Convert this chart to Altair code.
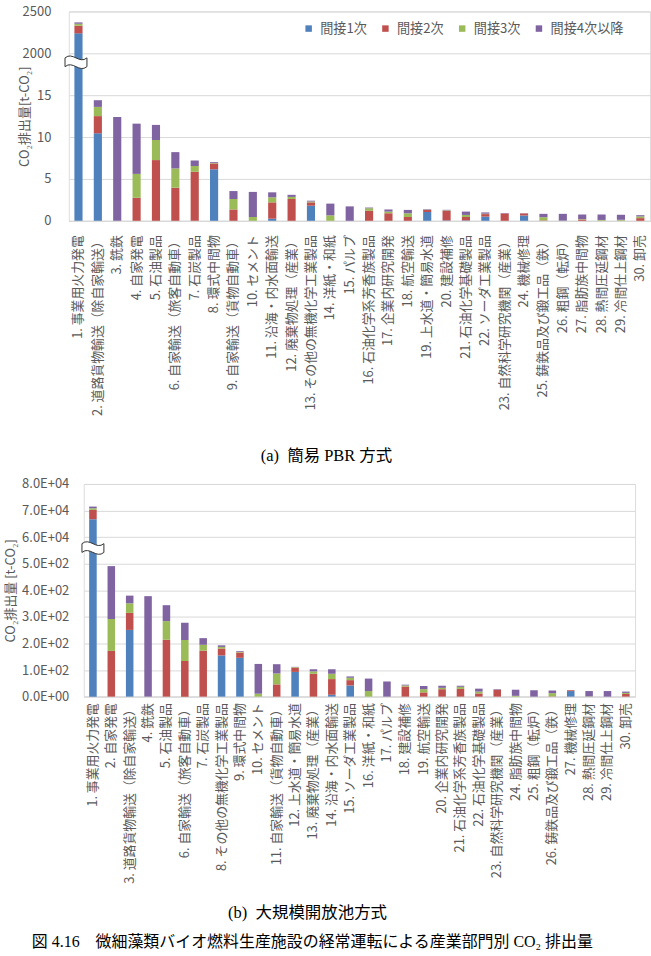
import altair as alt
import pandas as pd

series = ["間接1次", "間接2次", "間接3次", "間接4次以降"]
colors = ["#4F81BD", "#C0504D", "#9BBB59", "#8064A2"]

# ---------- (a) 簡易 PBR 方式 ----------
cats_a = [
    "1. 事業用火力発電", "2. 道路貨物輸送（除自家輸送）", "3. 銑鉄", "4. 自家発電", "5. 石油製品",
    "6. 自家輸送（旅客自動車）", "7. 石炭製品", "8. 環式中間物", "9. 自家輸送（貨物自動車）", "10. セメント",
    "11. 沿海・内水面輸送", "12. 廃棄物処理（産業）", "13. その他の無機化学工業製品", "14. 洋紙・和紙", "15. パルプ",
    "16. 石油化学系芳香族製品", "17. 企業内研究開発", "18. 航空輸送", "19. 上水道・簡易水道", "20. 建設補修",
    "21. 石油化学基礎製品", "22. ソーダ工業製品", "23. 自然科学研究機関（産業）", "24. 機械修理", "25. 鋳鉄品及び鍛工品（鉄）",
    "26. 粗鋼（転炉）", "27. 脂肪族中間物", "28. 熱間圧延鋼材", "29. 冷間仕上鋼材", "30. 卸売",
]
a_1 = [2238, 10.45, 0, 0, 0, 0, 0, 6.15, 0, 0, 0.25, 0, 1.8, 0, 0,
       0, 0, 0, 1.05, 0.05, 0.05, 0.5, 0, 0.63, 0, 0, 0, 0, 0, 0]
a_2 = [92, 2.05, 0, 2.75, 7.25, 3.95, 5.85, 0.7, 1.35, 0, 1.95, 2.6, 0.4, 0, 0,
       1.2, 0.9, 0.45, 0.25, 1.15, 0.4, 0.3, 0.88, 0.25, 0.05, 0, 0.15, 0.02, 0.02, 0.32]
a_3 = [23, 1.1, 0, 2.85, 2.4, 2.3, 0.7, 0.05, 1.25, 0.45, 0.6, 0.25, 0.1, 0.65, 0,
       0.3, 0.2, 0.45, 0.02, 0.05, 0.25, 0.05, 0, 0, 0.38, 0.02, 0.05, 0.08, 0.1, 0.2]
a_4 = [16, 0.8, 12.4, 6.0, 1.8, 1.95, 0.65, 0.1, 0.95, 3.0, 0.6, 0.25, 0.1, 1.4, 1.72,
       0.08, 0.25, 0.4, 0.06, 0.06, 0.4, 0.15, 0.04, 0.02, 0.4, 0.81, 0.55, 0.65, 0.6, 0.15]
a_domain = [0, 15, 2000, 2500]
a_ticks = [0, 5, 10, 15, 2000, 2500]
a_break = [1575]

# ---------- (b) 大規模開放池方式 ----------
cats_b = [
    "1. 事業用火力発電", "2. 自家発電", "3. 道路貨物輸送（除自家輸送）", "4. 銑鉄", "5. 石油製品",
    "6. 自家輸送（旅客自動車）", "7. 石炭製品", "8. その他の無機化学工業製品", "9. 環式中間物", "10. セメント",
    "11. 自家輸送（貨物自動車）", "12. 上水道・簡易水道", "13. 廃棄物処理（産業）", "14. 沿海・内水面輸送", "15. ソーダ工業製品",
    "16. 洋紙・和紙", "17. パルプ", "18. 建設補修", "19. 航空輸送", "20. 企業内研究開発",
    "21. 石油化学系芳香族製品", "22. 石油化学基礎製品", "23. 自然科学研究機関（産業）", "24. 脂肪族中間物", "25. 粗鋼（転炉）",
    "26. 鋳鉄品及び鍛工品（鉄）", "27. 機械修理", "28. 熱間圧延鋼材", "29. 冷間仕上鋼材", "30. 卸売",
]
b_1 = [66750, 0, 251, 0, 0, 0, 0, 155, 146, 0, 0, 93, 0, 7, 42,
       0, 0, 0, 0, 0, 0, 0, 0, 0, 0, 0, 21, 0, 0, 0]
b_2 = [3500, 172, 64, 0, 214, 134, 173, 26, 20, 0, 46, 16, 86, 59, 20,
       0, 0, 38, 16, 28, 29, 12, 26, 0, 0, 1, 3, 0, 0, 10]
b_3 = [600, 120, 36, 0, 70, 79, 22, 6, 2, 11, 41, 2, 9, 20, 9,
       21, 0, 4, 12, 5, 8, 7, 0, 3, 0, 12, 0, 1, 0, 4]
b_4 = [650, 199, 29, 378, 60, 65, 25, 6, 3, 112, 35, 1, 8, 17, 5,
       47, 57, 3, 12, 8, 4, 11, 2, 23, 24, 10, 0, 20, 21, 5]
b_domain = [0, 500, 60000, 80000]
b_ticks = [0, 100, 200, 300, 400, 500, 60000, 70000, 80000]
b_break = [35600]

captions = ["(a)\u00a0\u00a0簡易 PBR 方式", "(b)\u00a0\u00a0大規模開放池方式"]
fig_caption = "図 4.16　微細藻類バイオ燃料生産施設の経常運転による産業部門別 CO₂ 排出量"

BREAK_PATH = ("M -1 -0.4 C -0.3 -1.0 0.3 0.2 1 -0.4 L 1 0.4 "
              "C 0.3 1.0 -0.3 -0.2 -1 0.4 Z")

JP = "Noto Sans CJK JP"
SERIF = "Liberation Serif, Noto Sans CJK JP"
GRAY = "#595959"
GRID = "#D9D9D9"


def long_df(cats, s1, s2, s3, s4):
    rows = []
    for i, c in enumerate(cats):
        for j, arr in enumerate([s1, s2, s3, s4]):
            rows.append({"cat": c, "value": arr[i], "series": series[j], "order": j})
    return pd.DataFrame(rows)


def panel(cats, s1, s2, s3, s4, domain, yrange, ticks, label_expr, ytitle,
          brk, width, height, pad_inner, x_label_pad, y_label_pad, y_title_pad,
          legend_x, legend_y, caption, cap_offset, cap_dx, brk_dx):
    df = long_df(cats, s1, s2, s3, s4)
    xenc = alt.X(
        "cat:N", sort=cats, title=None,
        scale=alt.Scale(paddingInner=pad_inner, paddingOuter=pad_inner / 2),
        axis=alt.Axis(labelAngle=270, labelFont=JP, labelFontSize=12.9, labelColor=GRAY,
                      labelLimit=400, labelOverlap=False, labelPadding=x_label_pad,
                      ticks=False, tickSize=0, domainColor=GRID, domainWidth=1, grid=False),
    )
    yscale = alt.Scale(domain=domain, range=yrange, nice=False, zero=False)
    bars = alt.Chart(df).mark_bar().encode(
        x=xenc,
        y=alt.Y("value:Q", stack="zero", scale=yscale,
                axis=alt.Axis(values=ticks, tickCount=len(ticks) + 2,
                              labelExpr=label_expr, title=ytitle,
                              labelFont=JP, labelFontSize=13, labelColor=GRAY,
                              labelOverlap=False, labelFlush=False,
                              labelPadding=y_label_pad, ticks=False, tickSize=0,
                              domain=False, grid=True, gridColor=GRID, gridWidth=1,
                              titleFont=JP, titleFontSize=13, titleFontWeight="normal",
                              titleColor=GRAY, titlePadding=y_title_pad)),
        color=alt.Color("series:N", scale=alt.Scale(domain=series, range=colors),
                        legend=alt.Legend(title=None, orient="none", legendX=legend_x,
                                          legendY=legend_y, direction="horizontal",
                                          columns=4, columnPadding=11, symbolType="square",
                                          symbolSize=42, labelFont=JP, labelFontSize=13.2,
                                          labelColor=GRAY, labelOffset=5, padding=0)),
        order=alt.Order("order:Q", sort="ascending"),
    )
    bdf = pd.DataFrame({"cat": [cats[0]], "value": brk})
    mark = alt.Chart(bdf).mark_point(
        shape=BREAK_PATH, size=484, filled=True, fill="white", stroke="#333333",
        strokeWidth=1, opacity=1, xOffset=brk_dx,
    ).encode(x=alt.X("cat:N", sort=cats), y=alt.Y("value:Q"))
    return alt.layer(bars, mark).properties(
        width=width, height=height,
        title=alt.TitleParams(caption, orient="bottom", anchor="middle", offset=cap_offset,
                              dx=cap_dx, font=SERIF, fontSize=16.5, fontWeight="normal",
                              color="black"),
    )


HA = 210
chart_a = panel(cats_a, a_1, a_2, a_3, a_4, a_domain,
                [HA, HA * 2 / 5, HA / 5, 0], a_ticks, "format(datum.value, 'd')",
                "CO₂排出量[t-CO₂]", a_break, 583, HA, 0.58, 14, 18, -9,
                234, 10.5, captions[0], 33, -33, -2.5)

HB = 213.3
chart_b = panel(cats_b, b_1, b_2, b_3, b_4, b_domain,
                [HB, HB * 3 / 8, HB * 2 / 8, 0], b_ticks,
                "replace(upper(format(datum.value, '.1e')), 'E+', 'E+0')",
                "CO₂排出量 [t-CO₂]", b_break, 553, HB, 0.59, 6, 15, 4,
                214, 3.5, captions[1], 22, -52, 0)

chart = alt.vconcat(chart_a, chart_b, spacing=264, bounds="flush", center=True).properties(
    title=alt.TitleParams(fig_caption, orient="bottom", anchor="middle", offset=12, dx=-15,
                          font=SERIF, fontSize=16, fontWeight="normal", color="black"),
    padding={"left": 4, "top": 3, "right": 0, "bottom": 4},
).configure_view(stroke=None).configure(background="white")

chart.save("out.html", embed_options={"renderer": "svg", "actions": False})
